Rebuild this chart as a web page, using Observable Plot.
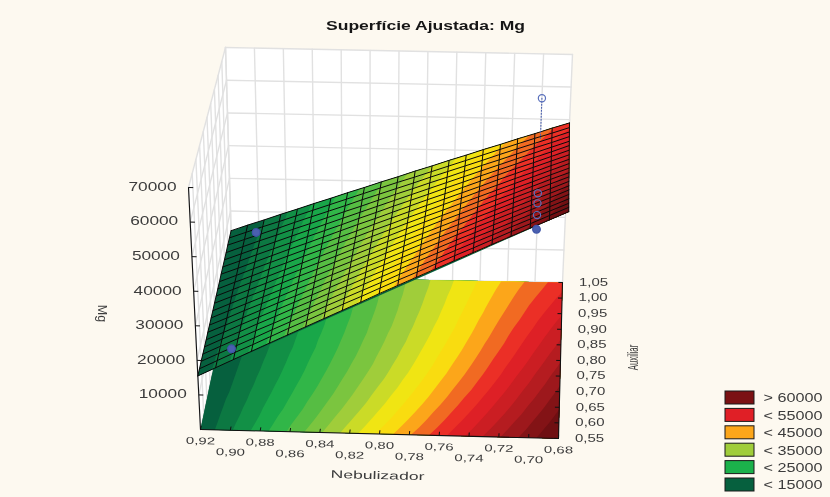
<!DOCTYPE html>
<html><head><meta charset="utf-8">
<style>html,body{margin:0;padding:0;background:#fdf9f0}svg{display:block;filter:blur(0.35px)}</style>
<script src="https://cdn.jsdelivr.net/npm/d3@7"></script>
<script src="https://cdn.jsdelivr.net/npm/@observablehq/plot@0.6"></script>
</head><body><div id="chart"></div>
<script>
const chartTitle = "Superfície Ajustada: Mg";
const nebTicks = [0.92,0.90,0.88,0.86,0.84,0.82,0.80,0.78,0.76,0.74,0.72,0.70,0.68];
const auxTicks = [0.55,0.60,0.65,0.70,0.75,0.80,0.85,0.90,0.95,1.00,1.05];
const mgTicks = [10000,20000,30000,40000,50000,60000,70000];
const legendLabels = ["> 60000","< 55000","< 45000","< 35000","< 25000","< 15000"];
const legendColors = ["#7b1113","#e01f26","#fca61a","#a0cd3a","#1bb14b","#06603e"];
const bandStops = [19000,27500,36500,40000,42000,44000,46500,49000,52000,55000,60000,66000];
const bandColors = ["#06603e","#1bb14b","#a0cd3a","#dce11f","#f7e60f","#f9dc10","#fca61a","#f16a22","#ea2327","#d81f25","#ac1b1f","#6f0f12"];
const bandThresholds = [15000,17500,20000,22500,25000,27500,30000,32500,35000,37500,40000,42500,45000,47500,50000,52500,55000,57500,60000,62500];
// fitted Mg read at each mesh node: rows Auxiliar 0.55 -> 1.05, columns Nebulizador 0.92 -> 0.68
const mgGrid = [
[15500,18000,20500,23000,25500,28000,30500,33000,35500,38000,40600,43100,45600,48100,50600,53100,55600,58100,60600,63100,65600],
[15400,17900,20400,22800,25300,27800,30200,32700,35200,37600,40100,42600,45000,47500,50000,52400,54900,57400,59800,62300,64800],
[15400,17800,20200,22600,25100,27500,29900,32400,34800,37200,39600,42100,44500,46900,49400,51800,54200,56700,59100,61500,63900],
[15300,17700,20100,22500,24800,27200,29600,32000,34400,36800,39200,41600,44000,46400,48800,51200,53500,55900,58300,60700,63100],
[15200,17600,19900,22300,24600,27000,29300,31700,34000,36400,38700,41100,43400,45800,48200,50500,52900,55200,57600,59900,62300],
[15100,17400,19800,22100,24400,26700,29000,31300,33700,36000,38300,40600,42900,45200,47600,49900,52200,54500,56800,59100,61500],
[15100,17300,19600,21900,24200,26400,28700,31000,33300,35600,37800,40100,42400,44700,46900,49200,51500,53800,56100,58300,60600],
[15000,17200,19500,21700,23900,26200,28400,30700,32900,35100,37400,39600,41900,44100,46300,48600,50800,53100,55300,57500,59800],
[14900,17100,19300,21500,23700,25900,28100,30300,32500,34700,36900,39100,41300,43500,45700,47900,50100,52400,54600,56800,59000],
[14800,17000,19200,21300,23500,25700,27800,30000,32100,34300,36500,38600,40800,43000,45100,47300,49500,51600,53800,56000,58100],
[14800,16900,19000,21100,23300,25400,27500,29600,31800,33900,36000,38200,40300,42400,44500,46700,48800,50900,53000,55200,57300],
[14700,16800,18900,20900,23000,25100,27200,29300,31400,33500,35600,37700,39800,41800,43900,46000,48100,50200,52300,54400,56500],
[14600,16700,18700,20800,22800,24900,26900,29000,31000,33100,35100,37200,39200,41300,43300,45400,47400,49500,51500,53600,55600],
[14500,16500,18600,20600,22600,24600,26600,28600,30600,32700,34700,36700,38700,40700,42700,44700,46800,48800,50800,52800,54800],
[14500,16400,18400,20400,22400,24300,26300,28300,30300,32200,34200,36200,38200,40100,42100,44100,46100,48100,50000,52000,54000],
[14400,16300,18300,20200,22100,24100,26000,27900,29900,31800,33800,35700,37600,39600,41500,43500,45400,47300,49300,51200,53200],
[14300,16200,18100,20000,21900,23800,25700,27600,29500,31400,33300,35200,37100,39000,40900,42800,44700,46600,48500,50400,52300],
[14200,16100,18000,19800,21700,23500,25400,27300,29100,31000,32900,34700,36600,38400,40300,42200,44000,45900,47800,49600,51500],
[14200,16000,17800,19600,21500,23300,25100,26900,28800,30600,32400,34200,36100,37900,39700,41500,43400,45200,47000,48800,50700],
[14100,15900,17700,19400,21200,23000,24800,26600,28400,30200,32000,33700,35500,37300,39100,40900,42700,44500,46300,48000,49800],
[14000,15800,17500,19300,21000,22800,24500,26300,28000,29800,31500,33300,35000,36800,38500,40300,42000,43800,45500,47300,49000]
];
const openNeb = [0.70,0.70,0.70,0.70];
const openAux = [1.05,0.55,0.55,0.55];
const openMg  = [56400,70700,67800,64400];
const solidNeb = [0.70,0.902,0.897];
const solidAux = [0.55,1.05,0.55];
const solidMg  = [60300,13600,23600];
const residualNeb = [0.70,0.70];
const residualAux = [1.05,1.05];
const residualMg = [56400,44100];

// view of the 3D box: where its eight corners fall on the page
const view = {A:[200,429],B:[558,438],C:[562,282],D:[232,276],At:[188,187],Bt:[569,196],Ct:[572,54],Dt:[225,47]};
const W=830,H=497, MgTop=70000;
const mix=(a,b,t)=>[a[0]+(b[0]-a[0])*t,a[1]+(b[1]-a[1])*t];
function pUVW(u,v,w){
  const lo=mix(mix(view.A,view.B,u),mix(view.D,view.C,u),v);
  const hi=mix(mix(view.At,view.Bt,u),mix(view.Dt,view.Ct,u),v);
  return mix(lo,hi,w);
}
const uOf=n=>(0.92-n)/0.24, vOf=a=>(a-0.55)/0.5, wOf=z=>z/MgTop;
const project=(n,a,z)=>pUVW(uOf(n),vOf(a),wOf(z));
const N=mgGrid.length-1;
function gridZ(i,j){
  const i0=Math.min(Math.floor(i),N-1), j0=Math.min(Math.floor(j),N-1), fi=i-i0, fj=j-j0;
  return (mgGrid[j0][i0]*(1-fi)+mgGrid[j0][i0+1]*fi)*(1-fj)+(mgGrid[j0+1][i0]*(1-fi)+mgGrid[j0+1][i0+1]*fi)*fj;
}
const bandColor=d3.scaleLinear().domain(bandStops).range(bandColors).interpolate(d3.interpolateRgb).clamp(true);

// colour bands from d3.contours on the grid
const flat=mgGrid.flat();
const contours=d3.contours().size([N+1,N+1]).thresholds(bandThresholds)(flat);
const clampG=c=>Math.max(0,Math.min(N,c-0.5));
// the floor of the reference bows its bands through the view's perspective
const floorBow=(u,v)=>u+0.8*u*(1-u)*v*(1-v);
function bandRows(onSurface){
  const rows=[]; let id=0;
  const add=(ring,c)=>{id++; for(const p of ring){
    const i=clampG(p[0]), j=clampG(p[1]);
    const xy=onSurface?pUVW(i/N,j/N,wOf(gridZ(i,j))):pUVW(floorBow(i/N,j/N),j/N,0);
    rows.push({id,px:xy[0],py:xy[1],c});
  }};
  add([[0,0],[N+1,0],[N+1,N+1],[0,N+1],[0,0]],bandColor(15000));
  contours.forEach(ct=>{
    const c=bandColor(ct.value+4000);
    ct.coordinates.forEach(poly=>add(poly[0],c));
  });
  return rows;
}
// mesh
const meshRows=[];
for(let j=0;j<=N;j++)for(let i=0;i<=N;i++){const q=pUVW(i/N,j/N,wOf(mgGrid[j][i]));meshRows.push({id:"r"+j,px:q[0],py:q[1]});}
for(let i=0;i<=N;i++)for(let j=0;j<=N;j++){const q=pUVW(i/N,j/N,wOf(mgGrid[j][i]));meshRows.push({id:"c"+i,px:q[0],py:q[1]});}
// walls
const ring=(pts,id)=>pts.map(p=>({id,px:p[0],py:p[1]}));
const walls=[...ring([view.D,view.C,view.Ct,view.Dt],"back"),...ring([view.A,view.D,view.Dt,view.At],"left")];
const gridLines=[];
const seg=(a,b,id)=>{gridLines.push({id,px:a[0],py:a[1]},{id,px:b[0],py:b[1]});};
const zLines=[0,...mgTicks];
nebTicks.forEach((n,k)=>seg(project(n,1.05,0),project(n,1.05,MgTop),"bn"+k));
zLines.forEach((z,k)=>{seg(project(0.92,1.05,z),project(0.68,1.05,z),"bz"+k);seg(project(0.92,0.55,z),project(0.92,1.05,z),"lz"+k);});
auxTicks.forEach((a,k)=>seg(project(0.92,a,0),project(0.92,a,MgTop),"la"+k));
// axes
const axisLines=[
 ...[project(0.92,0.55,0),project(0.92,0.55,MgTop)].map(p=>({id:"z",px:p[0],py:p[1]})),
 ...[project(0.92,0.55,0),project(0.68,0.55,0)].map(p=>({id:"x",px:p[0],py:p[1]})),
 ...[project(0.68,0.55,0),project(0.68,1.05,0)].map(p=>({id:"a",px:p[0],py:p[1]}))
];
const tickSegs=[
 ...mgTicks.map(z=>[project(0.92,0.55,z),project(0.917,0.55,z)]),
 ...nebTicks.map(n=>[project(n,0.55,0),project(n,0.562,0)]),
 ...auxTicks.map(a=>[project(0.68,a,0),project(0.683,a,0)])
].map(s=>({x1:s[0][0],y1:s[0][1],x2:s[1][0],y2:s[1][1]}));
const fmt=v=>v.toFixed(2).replace(".",",");
const nebLabels=nebTicks.map((n,k)=>{const p=project(n,0.55,0);return {t:fmt(n),px:p[0],py:p[1]+(k%2?22:11.5)};});
const auxLabels=auxTicks.map(a=>{const p=project(0.68,a,0);return {t:fmt(a),px:p[0]+31,py:p[1]};});
const mgLabels=mgTicks.map(z=>{const p=project(0.92,0.55,z);return {t:String(z),px:p[0]-12,py:p[1]-1};});
const toPts=(ns,as,zs)=>ns.map((n,k)=>{const p=project(n,as[k],zs[k]);return {px:p[0],py:p[1]};});
const openPts=toPts(openNeb,openAux,openMg), solidPts=toPts(solidNeb,solidAux,solidMg), residual=toPts(residualNeb,residualAux,residualMg);

const sans="Liberation Sans, Arial, sans-serif", ink="#3c3c3c";
const lg=legendLabels.map((t,k)=>({t,c:legendColors[k],top:391+17.4*k}));
const plot=Plot.plot({
  width:W,height:H,margin:0,
  style:{background:"#fdf9f0"},
  x:{domain:[0,W],range:[0,W],axis:null},
  y:{domain:[0,H],range:[0,H],axis:null},
  color:{type:"identity"},
  marks:[
    Plot.line(walls,{x:"px",y:"py",z:"id",fill:"#ffffff",stroke:"none"}),
    Plot.line(gridLines,{x:"px",y:"py",z:"id",stroke:"#e1e1e1",strokeWidth:1.4}),
    Plot.line(bandRows(false),{x:"px",y:"py",z:"id",fill:"c",stroke:"none"}),
    Plot.line(axisLines,{x:"px",y:"py",z:"id",stroke:"#111",strokeWidth:1.1}),
    Plot.link(tickSegs,{x1:"x1",y1:"y1",x2:"x2",y2:"y2",stroke:"#111",strokeWidth:1}),
    Plot.line(bandRows(true),{x:"px",y:"py",z:"id",fill:"c",stroke:"none"}),
    Plot.line(meshRows,{x:"px",y:"py",z:"id",stroke:"#0a0a0a",strokeWidth:1}),
    Plot.line(residual,{x:"px",y:"py",stroke:"#4a60b0",strokeWidth:1.1,strokeDasharray:"1,2"}),
    Plot.dot(openPts,{x:"px",y:"py",r:3.6,stroke:"#5a70bc",strokeWidth:1.2,fill:"none"}),
    Plot.dot(solidPts,{x:"px",y:"py",r:3.8,stroke:"#3f55a8",strokeWidth:1.3,fill:"#4a60b0"}),
    Plot.text([chartTitle],{x:()=>425,y:()=>25,text:d=>d,rotate:0.01,fontFamily:sans,fontWeight:"bold",fontSize:13.5,fill:"#161616"}),
    Plot.text(nebLabels,{x:"px",y:"py",text:"t",rotate:1.5,fontFamily:sans,fontSize:10,fill:ink}),
    Plot.text(auxLabels,{x:"px",y:"py",text:"t",rotate:0.01,fontFamily:sans,fontSize:10,fill:ink}),
    Plot.text(mgLabels,{x:"px",y:"py",text:"t",rotate:0.01,textAnchor:"end",fontFamily:sans,fontSize:13.5,fill:ink}),
    Plot.text(["Mg"],{x:()=>101,y:()=>313,text:d=>d,rotate:90,fontFamily:sans,fontSize:12.5,fill:ink}),
    Plot.text(["Nebulizador"],{x:()=>377,y:()=>475,text:d=>d,rotate:1.5,fontFamily:sans,fontSize:11,fill:ink}),
    Plot.text(["Auxiliar"],{x:()=>633,y:()=>357,text:d=>d,rotate:-90,fontFamily:sans,fontSize:15,fill:ink}),
    Plot.rect(lg,{x1:()=>725,x2:()=>754,y1:"top",y2:d=>d.top+13,fill:"c",stroke:"#1a1a1a",strokeWidth:1}),
    Plot.text(lg,{x:()=>763,y:d=>d.top+6.5,text:"t",rotate:0.01,textAnchor:"start",fontFamily:sans,fontSize:13.5,fill:ink})
  ]
});
// glyphs in the reference are stretched sideways: widen each text mark in mark order
const textStretch=[1.3,1.5,1.5,1.28,1,1.6,0.52,1.2];
d3.select(plot).selectAll('g[aria-label="text"]').each(function(_,k){
  d3.select(this).selectAll("text").attr("transform",function(){return (this.getAttribute("transform")||"")+` scale(${textStretch[k]},1)`;});
});
document.getElementById("chart").appendChild(plot);
</script></body></html>
